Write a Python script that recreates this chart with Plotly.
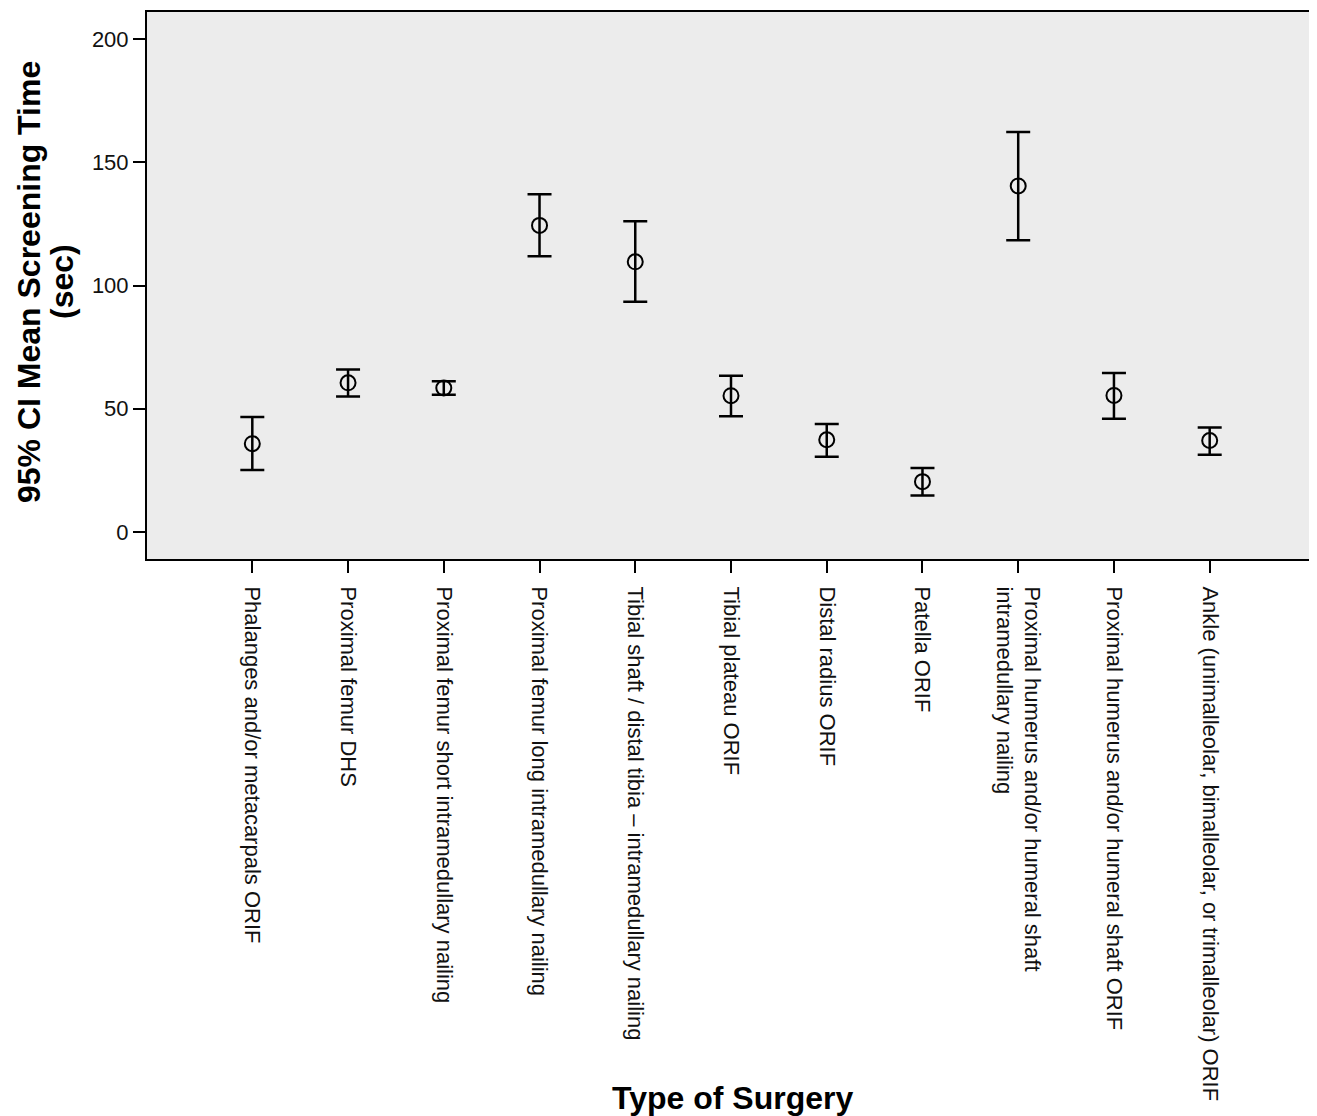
import plotly.graph_objects as go

categories = [
    "Phalanges and/or metacarpals ORIF",
    "Proximal femur DHS",
    "Proximal femur short intramedullary nailing",
    "Proximal femur long intramedullary nailing",
    "Tibial shaft / distal tibia \u2013 intramedullary nailing",
    "Tibial plateau ORIF",
    "Distal radius ORIF",
    "Patella ORIF",
    "Proximal humerus and/or humeral shaft<br>intramedullary nailing",
    "Proximal humerus and/or humeral shaft ORIF",
    "Ankle (unimalleolar, bimalleolar, or trimalleolar) ORIF",
]
means = [35.8, 60.5, 58.4, 124.4, 109.6, 55.3, 37.4, 20.4, 140.4, 55.4, 37.1]
upper = [46.6, 65.9, 61.1, 137.0, 126.1, 63.4, 43.8, 25.9, 162.3, 64.5, 42.4]
lower = [25.1, 54.9, 55.7, 111.9, 93.4, 46.9, 30.5, 14.8, 118.4, 45.9, 31.3]
y_ticks = [0, 50, 100, 150, 200]

xpos = list(range(len(categories)))
err_plus = [u - m for u, m in zip(upper, means)]
err_minus = [m - l for m, l in zip(means, lower)]

fig = go.Figure()
fig.add_trace(go.Scatter(
    x=xpos, y=means, mode="markers",
    marker=dict(symbol="circle-open", size=15, color="black", line=dict(width=2, color="black")),
    error_y=dict(type="data", symmetric=False, array=err_plus, arrayminus=err_minus,
                 color="black", thickness=2.5, width=12),
    showlegend=False,
))

fontfam = "Liberation Sans, Arial, sans-serif"
W, H = 1309, 1108
L, R, T, B = 139, 2, 4, 557
pw = W - L - R
ph = H - T - B

fig.update_layout(
    width=W, height=H,
    margin=dict(l=L, r=R, t=T, b=B, autoexpand=False),
    paper_bgcolor="white", plot_bgcolor="#ececec",
    font=dict(family=fontfam, color="black"),
    xaxis=dict(
        range=[-1.1, 11.1], tickvals=xpos, ticktext=categories, tickangle=90,
        automargin=False,
        showgrid=False, zeroline=False, showline=True, linecolor="black", linewidth=2, mirror=True,
        ticks="outside", ticklen=12, tickwidth=2, tickcolor="black", ticklabelstandoff=9,
        tickfont=dict(size=22, family=fontfam, color="#111"),
    ),
    yaxis=dict(
        range=[-11, 211], tickvals=y_ticks, automargin=False,
        showgrid=False, zeroline=False, showline=True, linecolor="black", linewidth=2, mirror=True,
        ticks="outside", ticklen=12, tickwidth=2, tickcolor="black",
        tickfont=dict(size=22, family=fontfam, color="#111"),
    ),
    annotations=[
        dict(text="<b>95% CI Mean Screening Time</b>", xref="paper", yref="paper",
             x=(21 - L) / pw, y=(ph - (274 - T)) / ph, xanchor="center", yanchor="middle",
             textangle=-90, showarrow=False, font=dict(size=32, family=fontfam, color="black")),
        dict(text="<b>(sec)</b>", xref="paper", yref="paper",
             x=(54 - L) / pw, y=(ph - (274 - T)) / ph, xanchor="center", yanchor="middle",
             textangle=-90, showarrow=False, font=dict(size=32, family=fontfam, color="black")),
        dict(text="<b>Type of Surgery</b>", xref="paper", yref="paper",
             x=(724 - L) / pw, y=-(1090 - (T + ph)) / ph, xanchor="center", yanchor="middle",
             showarrow=False, font=dict(size=32, family=fontfam, color="black")),
    ],
)

fig.write_html("out.html")
